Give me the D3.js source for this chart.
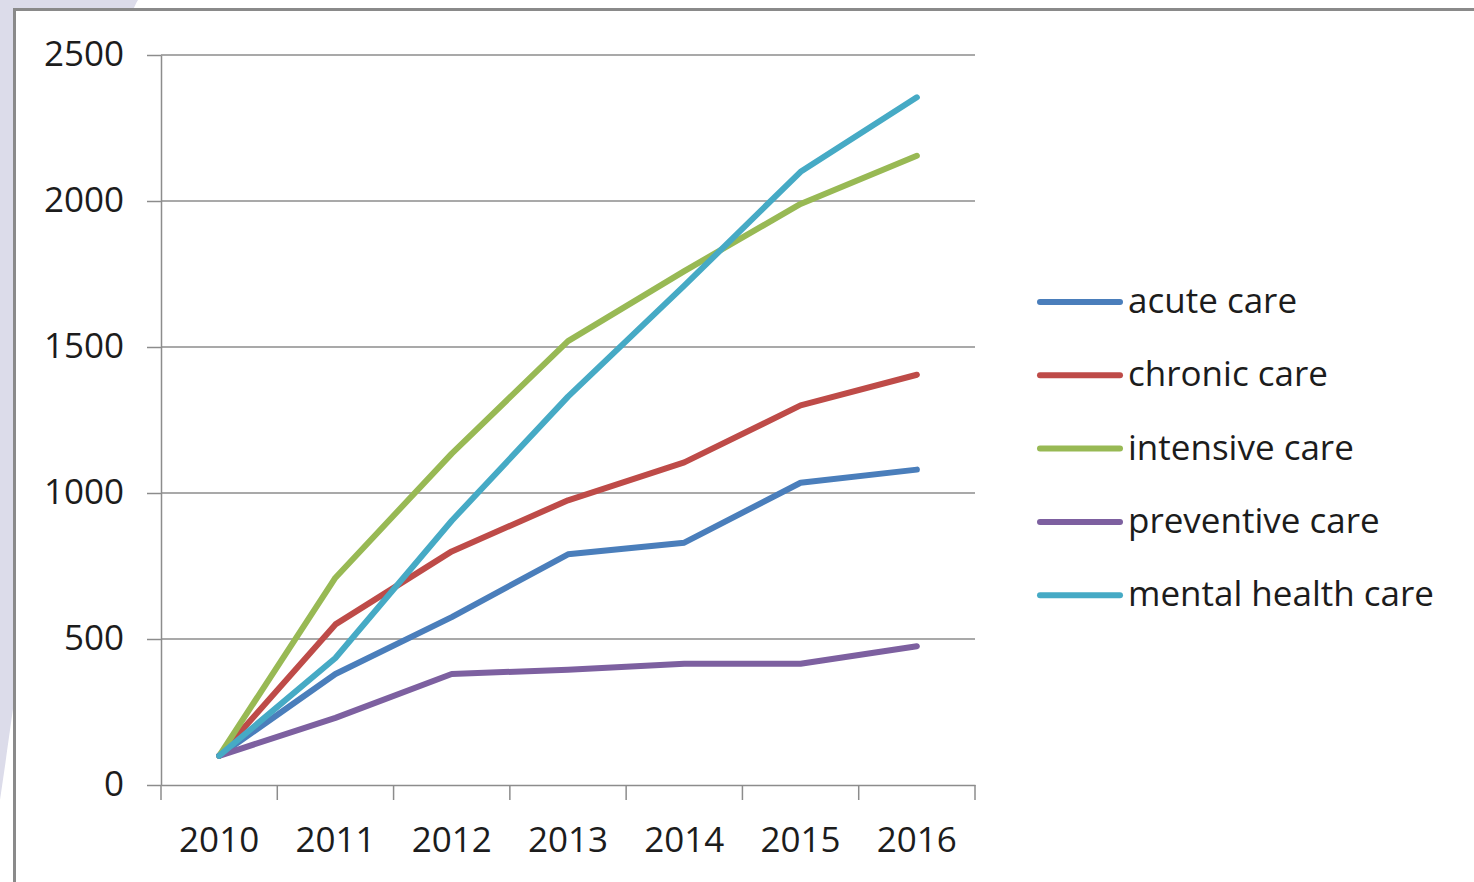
<!DOCTYPE html>
<html>
<head>
<meta charset="utf-8">
<script src="https://cdn.jsdelivr.net/npm/d3@7"></script>
<style>
  html, body { margin: 0; padding: 0; background: #ffffff; }
  svg { display: block; }
  text { font-family: "Open Sans", "Noto Sans", sans-serif; fill: #1c1c1c; }
</style>
</head>
<body>
<svg id="chart" width="1474" height="882"></svg>
<script>
// Categories and series values
const years = ["2010", "2011", "2012", "2013", "2014", "2015", "2016"];
const seriesNames = ["acute care", "chronic care", "intensive care", "preventive care", "mental health care"];
const acuteCare      = [100, 380, 575, 790, 830, 1035, 1080];
const chronicCare    = [100, 550, 800, 975, 1105, 1300, 1405];
const intensiveCare  = [100, 710, 1135, 1520, 1760, 1990, 2155];
const preventiveCare = [100, 230, 380, 395, 415, 415, 475];
const mentalCare     = [100, 435, 905, 1330, 1710, 2100, 2355];
const yTickValues    = [0, 500, 1000, 1500, 2000, 2500];
const seriesColors   = ["#4a7ebb", "#be4b48", "#98b954", "#7d60a0", "#46aac5"];

const series = [acuteCare, chronicCare, intensiveCare, preventiveCare, mentalCare]
  .map((values, i) => ({ name: seriesNames[i], color: seriesColors[i], values }));

const svg = d3.select("#chart");

// Backdrop: lavender slide shape on the left, framed white chart area
svg.append("path")
  .attr("d", "M0,0 L138,0 C95,70 30,600 0,800 Z")
  .attr("fill", "#dcdcea");
svg.append("rect")
  .attr("x", 14.5).attr("y", 9.5)
  .attr("width", 1600).attr("height", 1000)
  .attr("fill", "#ffffff")
  .attr("stroke", "#8a8a8a")
  .attr("stroke-width", 3);

// Plot area
const plot = { left: 161, right: 975, top: 55, bottom: 785 };
const gridColor = "#8c8c8c";

const x = d3.scaleBand().domain(years).range([plot.left, plot.right]).padding(0);
const y = d3.scaleLinear().domain([0, 2500]).range([plot.bottom, plot.top]);
const cx = d => x(d) + x.bandwidth() / 2;

// Horizontal gridlines
svg.append("g")
  .selectAll("line")
  .data(yTickValues.filter(v => v > 0))
  .join("line")
  .attr("x1", plot.left).attr("x2", plot.right)
  .attr("y1", d => y(d)).attr("y2", d => y(d))
  .attr("stroke", gridColor).attr("stroke-width", 1.5);

// Y axis
const yAxis = svg.append("g")
  .attr("transform", `translate(${plot.left},0)`)
  .call(d3.axisLeft(y).tickValues(yTickValues).tickFormat(d3.format("d"))
    .tickSize(14).tickSizeOuter(0).tickPadding(23));
yAxis.selectAll("path, line").attr("stroke", gridColor).attr("stroke-width", 1.5);
yAxis.selectAll("text")
  .attr("font-size", 35)
  .attr("font-family", "'Open Sans', sans-serif")
  .attr("fill", "#1c1c1c")
  .attr("dy", "0.29em");

// X axis: labels under each category, tick marks on category boundaries
const xAxis = svg.append("g")
  .attr("transform", `translate(0,${plot.bottom})`)
  .call(d3.axisBottom(x).tickSize(0).tickSizeOuter(0).tickPadding(42));
xAxis.select("path").attr("stroke", gridColor).attr("stroke-width", 1.5);
xAxis.selectAll("text")
  .attr("font-size", 35)
  .attr("font-family", "'Open Sans', sans-serif")
  .attr("fill", "#1c1c1c");

const boundaries = years.map(d => x(d)).concat([x.range()[1]]);
xAxis.append("g")
  .selectAll("line")
  .data(boundaries)
  .join("line")
  .attr("x1", d => d).attr("x2", d => d)
  .attr("y1", 0).attr("y2", 15)
  .attr("stroke", gridColor).attr("stroke-width", 1.5);

// Series lines
const line = d3.line()
  .x((v, i) => cx(years[i]))
  .y(v => y(v));

svg.append("g")
  .selectAll("path")
  .data(series)
  .join("path")
  .attr("d", s => line(s.values))
  .attr("fill", "none")
  .attr("stroke", s => s.color)
  .attr("stroke-width", 6)
  .attr("stroke-linejoin", "round")
  .attr("stroke-linecap", "round");

// Legend
const legend = svg.append("g").attr("transform", "translate(1040,302)");
const item = legend.selectAll("g")
  .data(series)
  .join("g")
  .attr("transform", (s, i) => `translate(0,${i * 73.3})`);
item.append("line")
  .attr("x1", 0).attr("x2", 80)
  .attr("y1", 0).attr("y2", 0)
  .attr("stroke", s => s.color)
  .attr("stroke-width", 6)
  .attr("stroke-linecap", "round");
item.append("text")
  .attr("x", 88).attr("y", 11)
  .attr("font-size", 35)
  .text(s => s.name);
</script>
</body>
</html>
